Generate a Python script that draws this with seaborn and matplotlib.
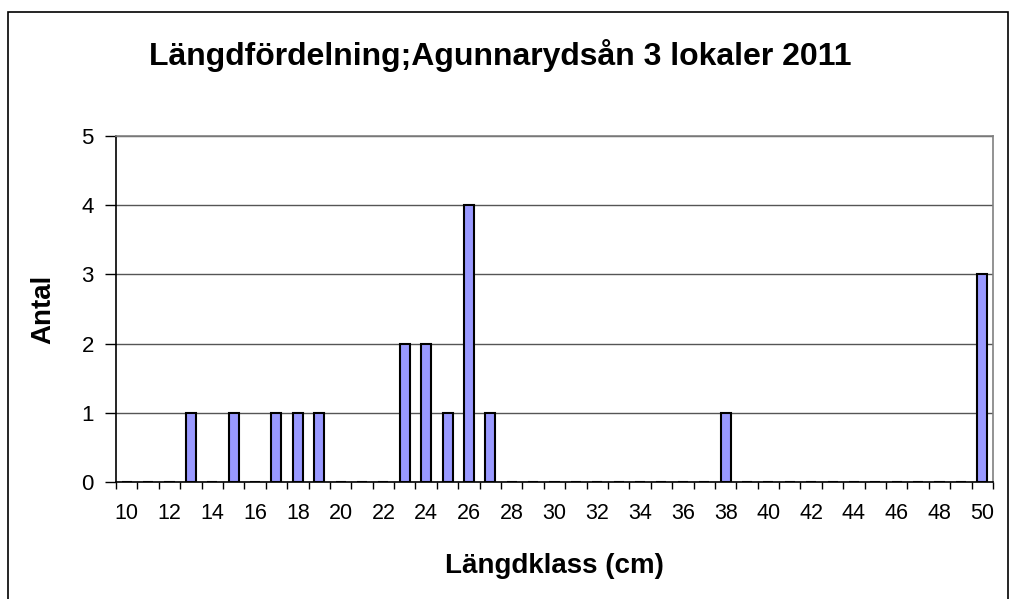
import matplotlib
matplotlib.use("Agg")
import matplotlib.pyplot as plt
import matplotlib.patches as patches
import numpy as np
import pandas as pd
import seaborn as sns

# Langdklasser (cm) och antal fiskar
klasser = list(range(10, 51))
fangst_klass = [13, 15, 17, 18, 19, 23, 24, 25, 26, 27, 38, 50]
fangst_antal = [1, 1, 1, 1, 1, 2, 2, 1, 4, 1, 1, 3]

TITLE = "Längdfördelning;Agunnarydsån 3 lokaler 2011"
XLABEL = "Längdklass (cm)"
YLABEL = "Antal"

antal = dict(zip(fangst_klass, fangst_antal))
df = pd.DataFrame({
    "klass": [str(k) for k in klasser],
    "antal": [antal.get(k, 0) for k in klasser],
})

sns.set_style("white")
plt.rcParams["font.family"] = ["Liberation Sans", "DejaVu Sans"]
plt.rcParams["text.color"] = "black"
plt.rcParams["axes.labelcolor"] = "black"
plt.rcParams["xtick.color"] = "black"
plt.rcParams["ytick.color"] = "black"

fig = plt.figure(figsize=(10.10, 5.99), dpi=100)
ax = fig.add_axes([116 / 1010, 1 - 482 / 599, (993 - 116) / 1010, (482 - 136) / 599])

sns.barplot(data=df, x="klass", y="antal", order=df["klass"], ax=ax,
            color="#9999FF", saturation=1, width=0.47,
            edgecolor="black", linewidth=1.5, zorder=3)

ax.set_ylim(0, 5)
ax.set_xlim(-0.5, len(klasser) - 0.5)
ax.set_yticks(range(0, 6))
ax.yaxis.grid(True, color="#555555", linewidth=1, zorder=0)
ax.set_axisbelow(True)

# etiketter varannan klass, streck vid klassgranser
ax.set_xticks(range(0, len(klasser), 2))
ax.set_xticklabels([str(k) for k in klasser[::2]])
ax.set_xticks(np.arange(-0.5, len(klasser), 1), minor=True)
ax.tick_params(axis="x", which="major", length=0, pad=15, labelsize=15.5)
ax.tick_params(axis="x", which="minor", length=5, width=1, color="black",
               direction="out", bottom=True)
ax.tick_params(axis="y", length=8, width=1, color="black", direction="out",
               left=True, pad=8, labelsize=16)

for side in ["left", "bottom"]:
    ax.spines[side].set_color("black")
    ax.spines[side].set_linewidth(1.2)
for side in ["top", "right"]:
    ax.spines[side].set_color("#808080")
    ax.spines[side].set_linewidth(1.2)

ax.set_xlabel(XLABEL, fontsize=20, fontweight="bold", labelpad=21)
ax.set_ylabel(YLABEL, fontsize=20, fontweight="bold", labelpad=18)
fig.text(0.495, 1 - 55 / 599, TITLE, ha="center", va="center",
         fontsize=23, fontweight="bold")

# ram runt diagrammet
fig.patches.append(patches.Rectangle((8 / 1010, -0.01), 1000 / 1010, 1.01 - 12 / 599,
                                     transform=fig.transFigure, fill=False,
                                     edgecolor="black", linewidth=1.2))

fig.savefig("out.png", dpi=100)
